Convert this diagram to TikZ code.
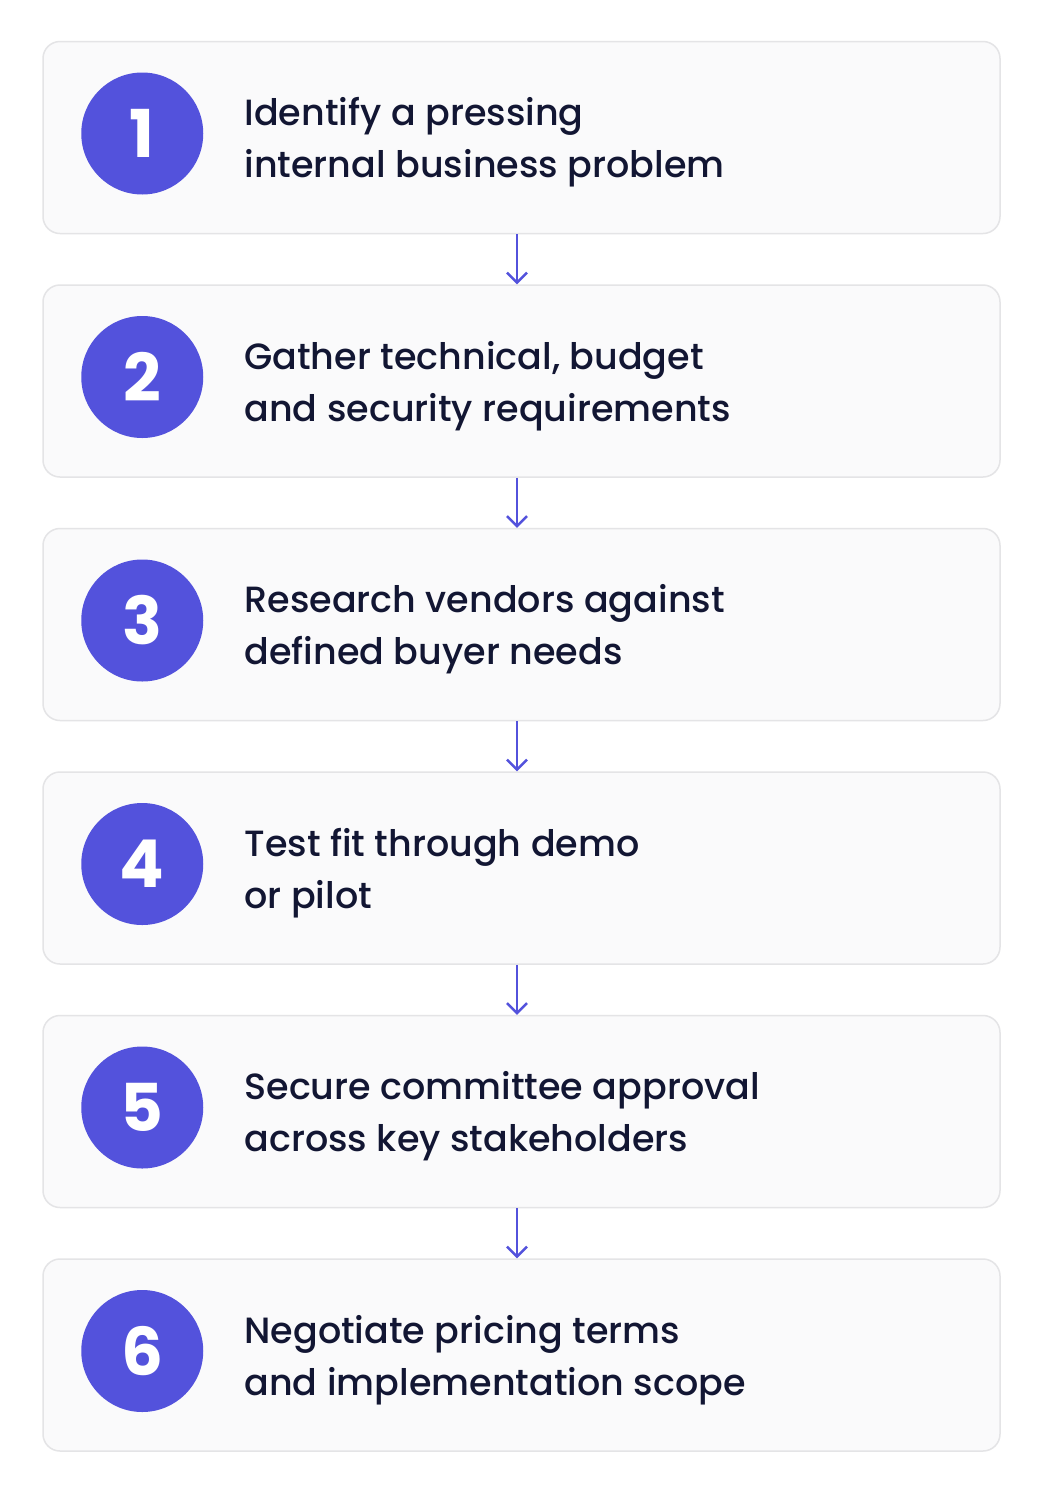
\documentclass[tikz,border=0pt]{standalone}
\usepackage{fontspec}
\setmainfont{Poppins}
\newfontfamily\medfont{Poppins Medium}
\usetikzlibrary{positioning,arrows.meta}
\definecolor{indigo}{HTML}{5352DC}
\definecolor{ink}{HTML}{121633}
\definecolor{boxfill}{HTML}{FAFAFB}
\definecolor{boxline}{HTML}{E4E4E6}
\tikzstyle{stepbox} = [rectangle, draw=boxline, line width=1.5pt, fill=boxfill, rounded corners=17pt, minimum width=957pt, minimum height=192pt, node distance=243.5pt]
\tikzstyle{num} = [circle, fill=indigo, text=white, minimum size=122pt, inner sep=0pt, font=\fontsize{66}{66}\selectfont\bfseries]
\tikzstyle{txt} = [anchor=west, text=ink, align=left, inner sep=0pt, font=\fontsize{36.5}{52}\selectfont\medfont]
\tikzstyle{line} = [draw=indigo, line width=2.4pt, -{Straight Barb[length=10pt,width=20pt]}]

\begin{document}
\begin{tikzpicture}[x=1pt, y=-1pt]
			\useasboundingbox [fill=white] (0,0) rectangle (1043,1508);
			\node [stepbox] (s1) at (521.5,137.5) {};
			\node [num] (n1) at ([xshift=100pt, yshift=4pt]s1.west) {1};
			\node [txt] (t1) at ([xshift=202pt, yshift=-5pt]s1.west) {Identify a pressing\\internal business problem};
			
			\node [stepbox, below of=s1] (s2) {};
			\node [num] (n2) at ([xshift=100pt, yshift=4pt]s2.west) {2};
			\node [txt] (t2) at ([xshift=202pt, yshift=-5pt]s2.west) {Gather technical, budget\\and security requirements};
			
			\node [stepbox, below of=s2] (s3) {};
			\node [num] (n3) at ([xshift=100pt, yshift=4pt]s3.west) {3};
			\node [txt] (t3) at ([xshift=202pt, yshift=-5pt]s3.west) {Research vendors against\\defined buyer needs};
			
			\node [stepbox, below of=s3] (s4) {};
			\node [num] (n4) at ([xshift=100pt, yshift=4pt]s4.west) {4};
			\node [txt] (t4) at ([xshift=202pt, yshift=-5pt]s4.west) {Test fit through demo\\or pilot};
			
			\node [stepbox, below of=s4] (s5) {};
			\node [num] (n5) at ([xshift=100pt, yshift=4pt]s5.west) {5};
			\node [txt] (t5) at ([xshift=202pt, yshift=-5pt]s5.west) {Secure committee approval\\across key stakeholders};
			
			\node [stepbox, below of=s5] (s6) {};
			\node [num] (n6) at ([xshift=100pt, yshift=4pt]s6.west) {6};
			\node [txt] (t6) at ([xshift=202pt, yshift=-5pt]s6.west) {Negotiate pricing terms\\and implementation scope};
			
			\path [line] ([xshift=-4.5pt]s1.south) -- ([xshift=-4.5pt]s2.north);
			\path [line] ([xshift=-4.5pt]s2.south) -- ([xshift=-4.5pt]s3.north);
			\path [line] ([xshift=-4.5pt]s3.south) -- ([xshift=-4.5pt]s4.north);
			\path [line] ([xshift=-4.5pt]s4.south) -- ([xshift=-4.5pt]s5.north);
			\path [line] ([xshift=-4.5pt]s5.south) -- ([xshift=-4.5pt]s6.north);
		\end{tikzpicture}
\end{document}
